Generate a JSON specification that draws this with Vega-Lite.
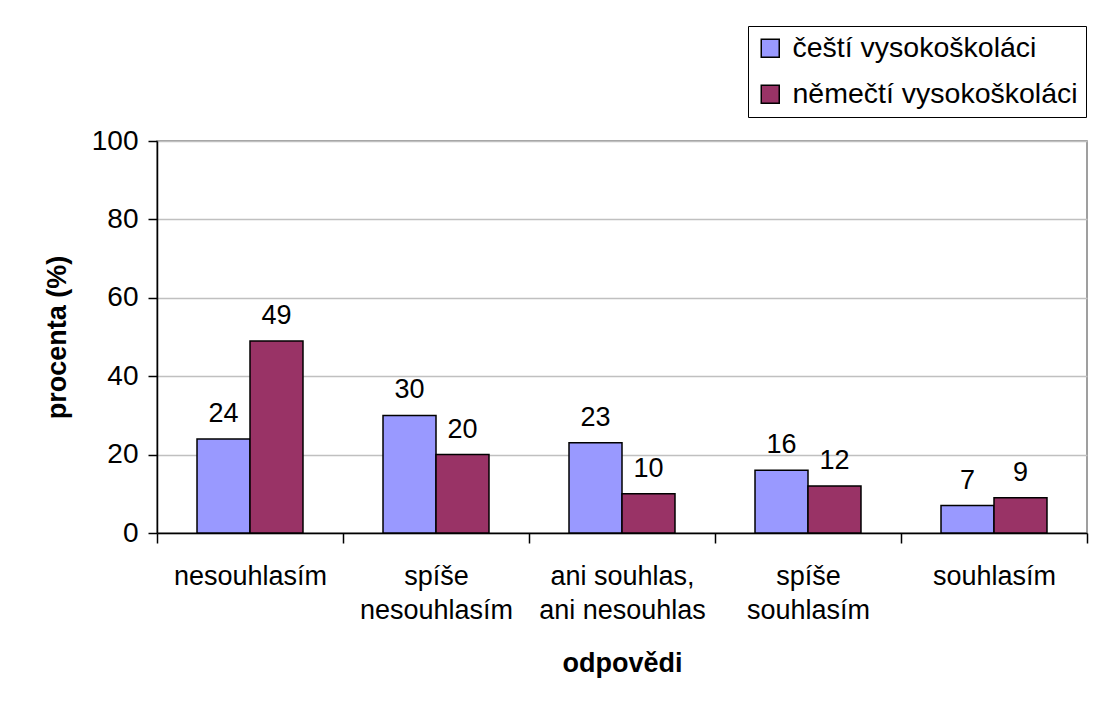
{
  "$schema": "https://vega.github.io/schema/vega-lite/v6.json",
  "width": 930,
  "height": 392,
  "autosize": {"type": "none"},
  "padding": {"left": 157, "top": 141, "right": 23, "bottom": 173},
  "background": "white",
  "config": {
    "font": "Liberation Sans",
    "view": {"stroke": "#808080", "strokeWidth": 1.5},
    "axis": {"labelFont": "Liberation Sans", "titleFont": "Liberation Sans", "labelColor": "black", "titleColor": "black"}
  },
  "data": {
    "values": [
      {"odpoved": "nesouhlasím", "skupina": "čeští vysokoškoláci", "procenta": 24},
      {"odpoved": "nesouhlasím", "skupina": "němečtí vysokoškoláci", "procenta": 49},
      {"odpoved": "spíše|nesouhlasím", "skupina": "čeští vysokoškoláci", "procenta": 30},
      {"odpoved": "spíše|nesouhlasím", "skupina": "němečtí vysokoškoláci", "procenta": 20},
      {"odpoved": "ani souhlas,|ani nesouhlas", "skupina": "čeští vysokoškoláci", "procenta": 23},
      {"odpoved": "ani souhlas,|ani nesouhlas", "skupina": "němečtí vysokoškoláci", "procenta": 10},
      {"odpoved": "spíše|souhlasím", "skupina": "čeští vysokoškoláci", "procenta": 16},
      {"odpoved": "spíše|souhlasím", "skupina": "němečtí vysokoškoláci", "procenta": 12},
      {"odpoved": "souhlasím", "skupina": "čeští vysokoškoláci", "procenta": 7},
      {"odpoved": "souhlasím", "skupina": "němečtí vysokoškoláci", "procenta": 9}
    ]
  },
  "encoding": {
    "x": {
      "field": "odpoved",
      "type": "nominal",
      "sort": null,
      "scale": {"paddingInner": 0, "paddingOuter": 0},
      "axis": {
        "title": "odpovědi",
        "titleFontSize": 27,
        "titleFontWeight": "bold",
        "titlePadding": 27,
        "labelExpr": "split(datum.label, '|')",
        "labelFontSize": 27,
        "labelAngle": 0,
        "labelPadding": 20,
        "labelLineHeight": 34,
        "labelBaseline": "top",
        "ticks": true,
        "tickBand": "extent",
        "tickSize": 10,
        "tickWidth": 1.5,
        "tickColor": "black",
        "domainColor": "black",
        "domainWidth": 1.5,
        "labelLimit": 300
      }
    },
    "xOffset": {
      "field": "skupina",
      "type": "nominal",
      "scale": {"domain": ["čeští vysokoškoláci", "němečtí vysokoškoláci"], "paddingInner": 0, "paddingOuter": 0.755}
    },
    "y": {
      "field": "procenta",
      "type": "quantitative",
      "scale": {"domain": [0, 100]},
      "axis": {
        "title": "procenta (%)",
        "titleFontSize": 27,
        "titleFontWeight": "bold",
        "titlePadding": 20,
        "values": [0, 20, 40, 60, 80, 100],
        "labelFontSize": 28,
        "labelPadding": 10,
        "tickSize": 9,
        "tickWidth": 1.5,
        "tickColor": "black",
        "domainColor": "black",
        "domainWidth": 1.5,
        "gridColor": "#c0c0c0",
        "gridWidth": 1.5
      }
    }
  },
  "layer": [
    {
      "mark": {"type": "bar", "stroke": "black", "strokeWidth": 1.5},
      "encoding": {
        "color": {
          "field": "skupina",
          "type": "nominal",
          "scale": {"domain": ["čeští vysokoškoláci", "němečtí vysokoškoláci"], "range": ["#9999FF", "#993366"]},
          "legend": {
            "title": null,
            "orient": "none",
            "legendX": 591,
            "legendY": -115,
            "strokeColor": "black",
            "padding": 8,
            "symbolType": "square",
            "symbolSize": 324,
            "symbolStrokeColor": "black",
            "symbolStrokeWidth": 1.5,
            "labelFontSize": 28.5,
            "labelFont": "Liberation Sans",
            "labelColor": "black",
            "rowPadding": 17,
            "labelOffset": 8,
            "labelLimit": 400
          }
        }
      }
    },
    {
      "mark": {"type": "text", "fontSize": 27, "baseline": "alphabetic", "dy": -17, "color": "black"},
      "encoding": {"text": {"field": "procenta", "type": "quantitative"}}
    }
  ]
}
